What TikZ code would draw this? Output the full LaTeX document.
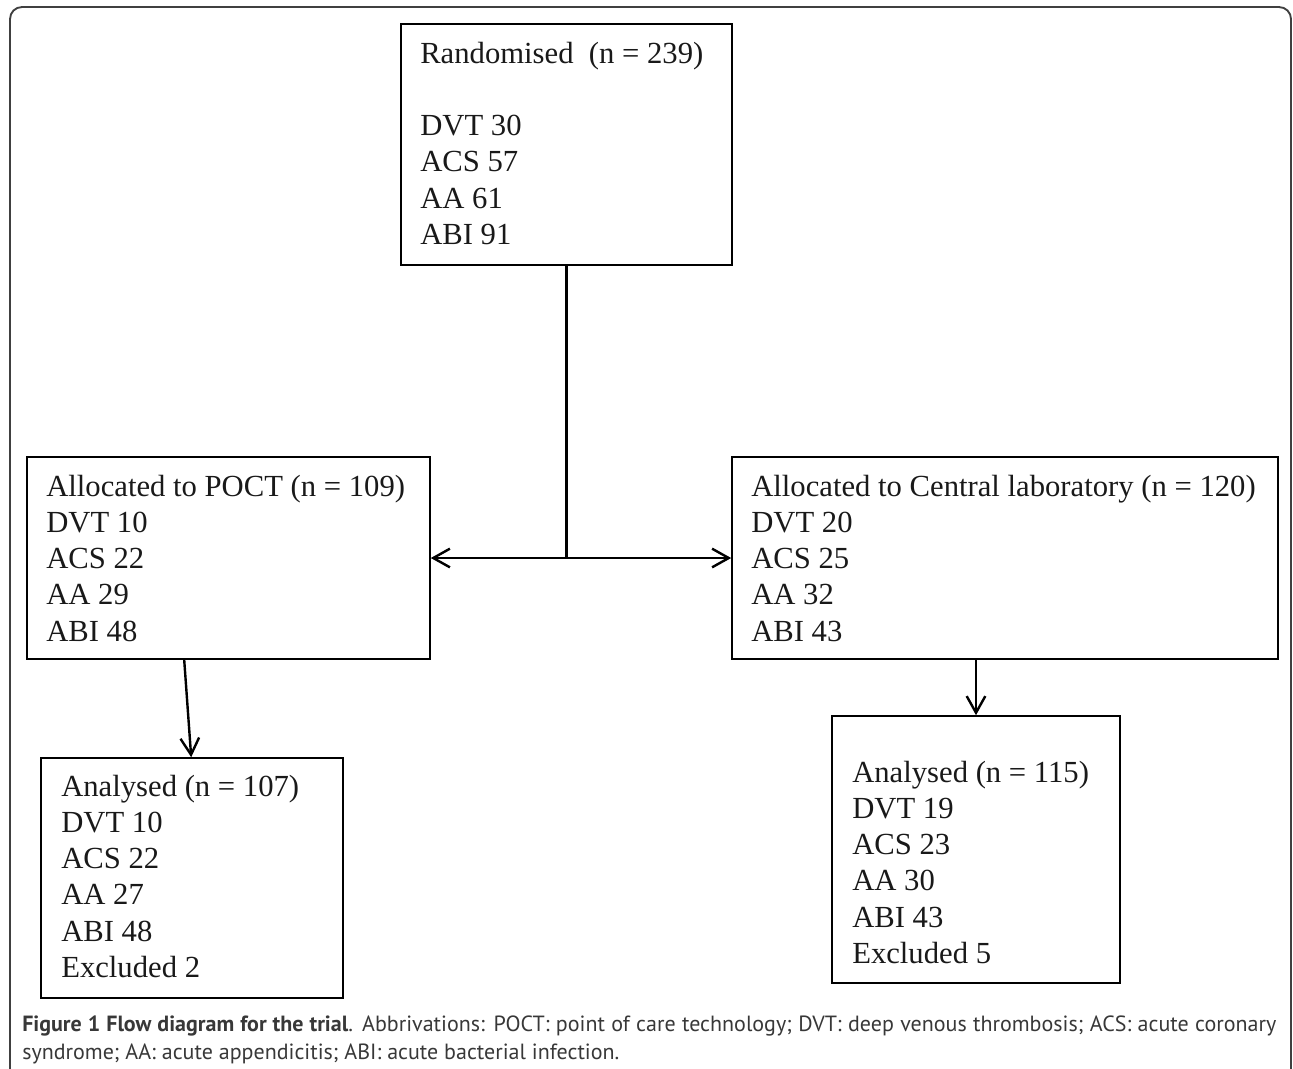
\documentclass[tikz,border=0pt]{standalone}
\usepackage{fontspec}
\setmainfont{Liberation Serif}
\newfontfamily\capfont{PT Sans}
\usetikzlibrary{arrows.meta,fit}
\begin{document}
\begin{tikzpicture}[x=0.75pt,y=-0.75pt,
  box/.style={draw=black, line width=1.2pt, inner sep=0pt, rectangle},
  txt/.style={anchor=base west, inner sep=0pt, font=\fontsize{23pt}{27.2pt}\selectfont, text=black!90},
  conn/.style={draw=black, line width=1.8pt},
  arr/.style={conn, -{Straight Barb[length=12.5pt, width=14pt, line width=1.8pt]}},
  frame/.style={draw=black!75, line width=1.4pt, rounded corners=9pt}]
\useasboundingbox (0,0) rectangle (1293,1068);
\draw[frame] (10,1080) -- (10,7) -- (1291,7) -- (1291,1080);
% boxes
\node[box, fit={(401,24) (732,265)}] (rand) {};
\node[box, fit={(27,457) (430,659)}] (poct) {};
\node[box, fit={(732,457) (1278,659)}] (cent) {};
\node[box, fit={(41,758) (343,998)}] (ana1) {};
\node[box, fit={(832,716) (1120,983)}] (ana2) {};
% texts
\renewcommand\arraystretch{1}
\node[txt] (randT) at (420,63) {\begin{tabular}[t]{@{}l@{}}Randomised\ \ (n = 239)\\ \\ DVT 30\\ ACS 57\\ AA 61\\ ABI 91\end{tabular}};
\node[txt] (poctT) at (46,496) {\begin{tabular}[t]{@{}l@{}}Allocated to POCT (n = 109)\\ DVT 10\\ ACS 22\\ AA 29\\ ABI 48\end{tabular}};
\node[txt] (centT) at (751,496) {\begin{tabular}[t]{@{}l@{}}Allocated to Central laboratory (n = 120)\\ DVT 20\\ ACS 25\\ AA 32\\ ABI 43\end{tabular}};
\node[txt] (ana1T) at (61,796) {\begin{tabular}[t]{@{}l@{}}Analysed (n = 107)\\ DVT 10\\ ACS 22\\ AA 27\\ ABI 48\\ Excluded 2\end{tabular}};
\node[txt] (ana2T) at (852,782) {\begin{tabular}[t]{@{}l@{}}Analysed (n = 115)\\ DVT 19\\ ACS 23\\ AA 30\\ ABI 43\\ Excluded 5\end{tabular}};
% connectors
\coordinate (j) at (rand.south |- poct.east);
\draw[conn] (rand.south) -- (j);
\draw[arr] (j) -- (poct.east);
\draw[arr] (j) -- (cent.west);
\draw[arr] ([xshift=118.5pt]poct.south west) -- ([xshift=113.25pt]ana1.north west);
\draw[arr] (cent.south -| ana2.north) -- (ana2.north);
% caption
\node[anchor=base west, inner sep=0pt, text=black!78, font=\capfont\fontsize{16.5pt}{21pt}\selectfont] (cap) at (22,1031)
  {\parbox[t]{940.5pt}{\textbf{Figure 1 Flow diagram for the trial}. Abbrivations: POCT: point of care technology; DVT: deep venous thrombosis; ACS: acute coronary\linebreak syndrome; AA: acute appendicitis; ABI: acute bacterial infection.}};
\end{tikzpicture}
\end{document}
